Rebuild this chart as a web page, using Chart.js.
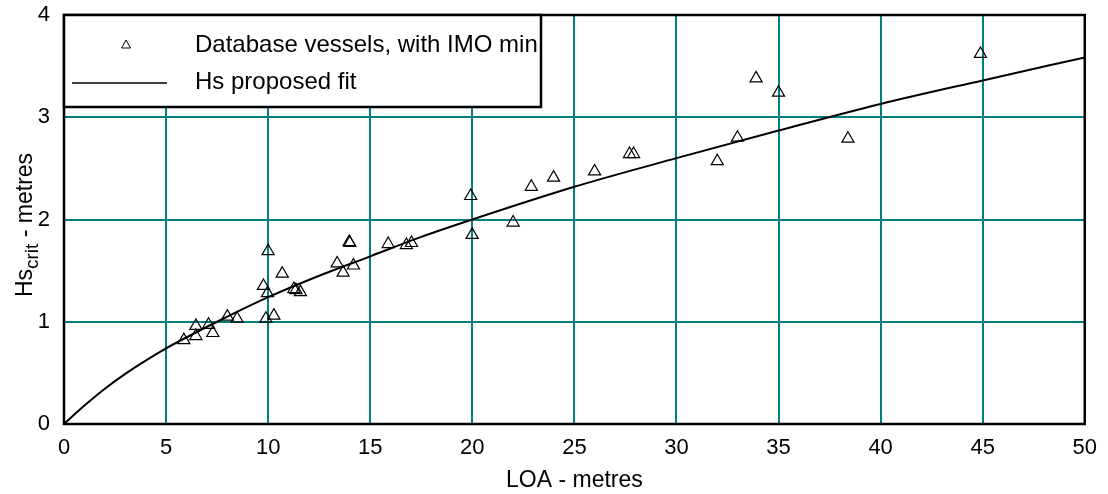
<!DOCTYPE html>
<html>
<head>
<meta charset="utf-8">
<script src="https://cdn.jsdelivr.net/npm/chart.js@4.4.0/dist/chart.umd.min.js"></script>
<style>
  html, body { margin: 0; padding: 0; background: #fff; }
  #wrap { width: 1108px; height: 494px; }
</style>
</head>
<body>
<div id="wrap"><canvas id="chart"></canvas></div>
<script>
// Database vessels (LOA m, Hs crit m)
const vesselLoa = [5.87, 6.46, 6.46, 7.08, 7.29, 8.0, 8.48, 9.89, 10.28, 9.77, 9.97, 10.0, 10.69, 11.26, 11.36, 11.58,
                   13.38, 13.67, 14.18, 13.97, 14.0, 15.88, 16.77, 17.02, 19.99, 19.92, 22.0, 22.89, 23.98, 25.99,
                   27.7, 27.9, 32.0, 32.99, 33.9, 35.0, 38.4, 44.89];
const vesselHs = [0.82, 0.86, 0.96, 0.97, 0.89, 1.05, 1.03, 1.03, 1.06, 1.35, 1.28, 1.69, 1.47, 1.32, 1.31, 1.29,
                  1.57, 1.48, 1.55, 1.78, 1.77, 1.76, 1.75, 1.77, 1.85, 2.23, 1.97, 2.32, 2.41, 2.47,
                  2.64, 2.64, 2.57, 2.80, 3.38, 3.24, 2.79, 3.62];

// Hs proposed fit
const fitLoa = [0, 1, 2, 3, 4, 5, 7.5, 10, 12.5, 15, 17.5, 20, 25, 30, 35, 40, 45, 50];
const fitHs = [0, 0.18, 0.345, 0.49, 0.62, 0.74, 1.0, 1.24, 1.45, 1.64, 1.83, 2.0, 2.32, 2.6, 2.87, 3.13, 3.36, 3.585];

const legendLabels = ["Database vessels, with IMO min", "Hs proposed fit"];
const xTitle = "LOA - metres";
const FONT = "'Liberation Sans', Arial, sans-serif";

// cadre noir + légende + titre Y avec indice
const extras = {
    id: "extras",
    afterDraw(chart) {
        const ctx = chart.ctx;
        const a = chart.chartArea;
        ctx.save();
        ctx.strokeStyle = "#000";
        ctx.lineWidth = 2.5;
        ctx.strokeRect(a.left, a.top, a.right - a.left, a.bottom - a.top);

        // boîte de légende
        const bx = a.left, by = a.top, bw = 477, bh = 92;
        ctx.fillStyle = "#fff";
        ctx.fillRect(bx, by, bw, bh);
        ctx.lineWidth = 2.5;
        ctx.strokeRect(bx, by, bw, bh);

        // triangle
        ctx.lineWidth = 1;
        ctx.beginPath();
        const tx = bx + 62, ty = by + 30;
        ctx.moveTo(tx, ty - 5);
        ctx.lineTo(tx + 4.5, ty + 3);
        ctx.lineTo(tx - 4.5, ty + 3);
        ctx.closePath();
        ctx.stroke();

        // ligne
        ctx.lineWidth = 1.5;
        ctx.beginPath();
        ctx.moveTo(bx + 8, by + 68);
        ctx.lineTo(bx + 103, by + 68);
        ctx.stroke();

        ctx.fillStyle = "#000";
        ctx.font = "24px " + FONT;
        ctx.textBaseline = "middle";
        ctx.textAlign = "left";
        ctx.fillText(legendLabels[0], bx + 131, by + 30);
        ctx.fillText(legendLabels[1], bx + 131, by + 67);

        // titre Y : Hs_crit - metres
        ctx.translate(32, 225);
        ctx.rotate(-Math.PI / 2);
        ctx.textBaseline = "alphabetic";
        const p1 = "Hs", p2 = "crit", p3 = " - metres";
        ctx.font = "23px " + FONT;
        const w1 = ctx.measureText(p1).width, w3 = ctx.measureText(p3).width;
        ctx.font = "19px " + FONT;
        const w2 = ctx.measureText(p2).width;
        let x0 = -(w1 + w2 + w3) / 2;
        ctx.font = "23px " + FONT;
        ctx.fillText(p1, x0, 0);
        ctx.font = "19px " + FONT;
        ctx.fillText(p2, x0 + w1, 6);
        ctx.font = "23px " + FONT;
        ctx.fillText(p3, x0 + w1 + w2, 0);
        ctx.restore();
    }
};

new Chart(document.getElementById("chart"), {
    type: "scatter",
    data: {
        datasets: [
            {
                label: legendLabels[0],
                data: vesselLoa.map((x, i) => ({ x: x, y: vesselHs[i] })),
                pointStyle: "triangle",
                pointRadius: 7,
                pointBorderWidth: 1.2,
                borderColor: "#000",
                backgroundColor: "rgba(0,0,0,0)"
            },
            {
                label: legendLabels[1],
                type: "line",
                data: fitLoa.map((x, i) => ({ x: x, y: fitHs[i] })),
                borderColor: "#000",
                borderWidth: 2,
                pointRadius: 0,
                fill: false,
                cubicInterpolationMode: "monotone"
            }
        ]
    },
    options: {
        responsive: true,
        maintainAspectRatio: false,
        animation: false,
        layout: { padding: { top: 15, right: 23 } },
        plugins: {
            legend: { display: false },
            tooltip: { enabled: false }
        },
        scales: {
            x: {
                type: "linear",
                min: 0, max: 50,
                afterFit: s => { s.height = 70; },
                ticks: { stepSize: 5, padding: 11, color: "#000", font: { family: FONT, size: 22 } },
                grid: { color: "#008080", lineWidth: 2, drawTicks: false },
                border: { display: false },
                title: { display: true, text: xTitle, color: "#000", font: { family: FONT, size: 23 }, padding: { top: 0, bottom: 0 } }
            },
            y: {
                min: 0, max: 4,
                afterFit: s => { s.width = 64; s.paddingTop = 0; s.paddingBottom = 0; },
                ticks: { stepSize: 1, padding: 14, color: "#000", font: { family: FONT, size: 22 } },
                grid: { color: "#008080", lineWidth: 2, drawTicks: false },
                border: { display: false }
            }
        }
    },
    plugins: [extras]
});
</script>
</body>
</html>
